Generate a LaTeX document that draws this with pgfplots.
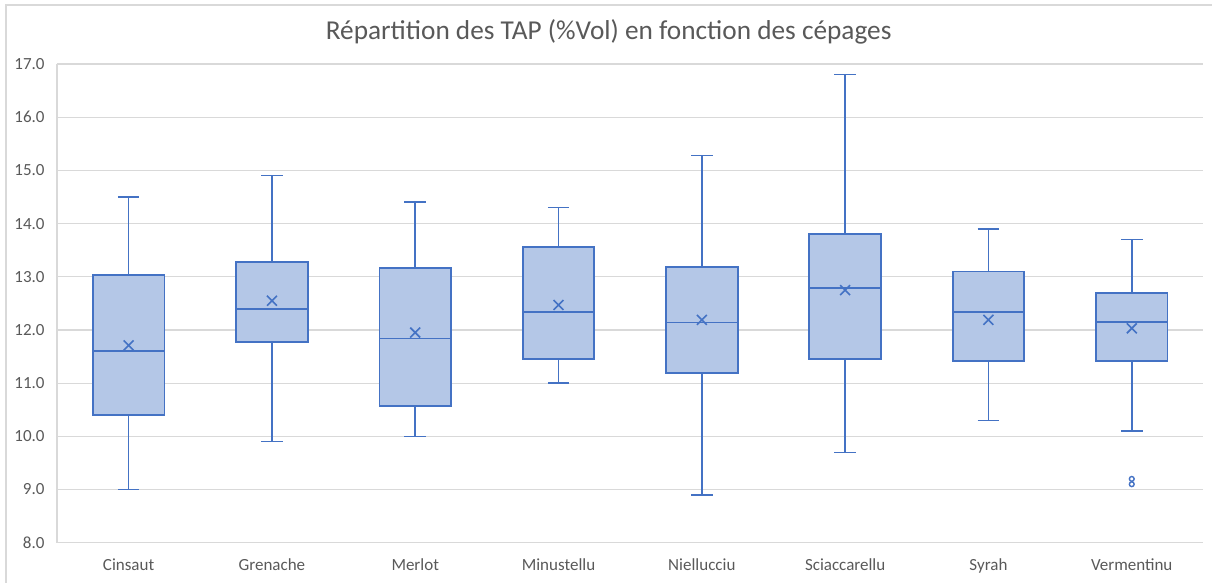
\documentclass[border=0pt]{standalone}
\usepackage{pgfplots}
\pgfplotsset{compat=1.18}
\usepgfplotslibrary{statistics}
\usepackage{fontspec}
\setmainfont{Carlito}
\definecolor{boxline}{HTML}{4472C4}
\definecolor{boxfill}{HTML}{B4C7E7}
\definecolor{txt}{HTML}{595959}
\definecolor{gridc}{HTML}{D9D9D9}
\pgfplotsset{
  mybox/.style={
    boxline, line width=0.8pt, solid,
    mark=o, mark size=1.2pt, mark options={solid, line width=0.7pt},
    boxplot/draw direction=y,
    boxplot/box extend=0.5,
    boxplot/whisker extend=0.15,
    boxplot/every box/.style={draw=boxline, fill=boxfill, line width=0.9pt},
    boxplot/every median/.style={line width=0.9pt},
    boxplot/every whisker/.style={line width=0.8pt},
    boxplot/every average/.style={/tikz/mark=x, /tikz/mark size=3.5pt, /tikz/mark options={solid, line width=0.7pt}},
  }
}
\begin{document}
\begin{tikzpicture}
\path (0pt,0pt) rectangle (606.5pt,291.5pt);
\draw[gridc, line width=0.6pt] (3pt,0pt) -- (3pt,289pt) -- (606.5pt,289pt);
\node[txt, font=\fontsize{13.65}{16}\selectfont, anchor=base, inner sep=0pt] at (304.5pt,271.5pt) {Répartition des TAP (\%Vol) en fonction des cépages};
\begin{axis}[
  at={(28.5pt,20pt)}, anchor=south west,
  scale only axis, width=573.5pt, height=239.5pt,
  xmin=-0.5, xmax=7.5, ymin=8, ymax=17,
  ytick={8,9,10,11,12,13,14,15,16,17},
  xtick={0,1,2,3,4,5,6,7},
  xticklabels={Cinsaut,Grenache,Merlot,Minustellu,Niellucciu,Sciaccarellu,Syrah,Vermentinu},
  /pgf/number format/assume math mode=true,
  yticklabel style={/pgf/number format/fixed, /pgf/number format/fixed zerofill, /pgf/number format/precision=1, anchor=east, xshift=-2.7pt},
  ticklabel style={font=\fontsize{8.5}{10}\selectfont, text=txt},
  xticklabel style={anchor=base, yshift=-14pt},
  major tick length=0pt,
  axis lines*=left,
  axis line style={gridc, line width=0.6pt},
  ymajorgrids, grid style={gridc, line width=0.6pt},
  clip=false,
]
\addplot[mybox, boxplot prepared={lower whisker=9.0, lower quartile=10.4, median=11.6, upper quartile=13.03, upper whisker=14.5, average=11.71, draw position=0}] coordinates {};
\addplot[mybox, boxplot prepared={lower whisker=9.9, lower quartile=11.77, median=12.39, upper quartile=13.27, upper whisker=14.9, average=12.55, draw position=1}] coordinates {};
\addplot[mybox, boxplot prepared={lower whisker=10.0, lower quartile=10.57, median=11.84, upper quartile=13.16, upper whisker=14.4, average=11.95, draw position=2}] coordinates {};
\addplot[mybox, boxplot prepared={lower whisker=11.0, lower quartile=11.45, median=12.34, upper quartile=13.56, upper whisker=14.3, average=12.47, draw position=3}] coordinates {};
\addplot[mybox, boxplot prepared={lower whisker=8.9, lower quartile=11.19, median=12.14, upper quartile=13.19, upper whisker=15.28, average=12.19, draw position=4}] coordinates {};
\addplot[mybox, boxplot prepared={lower whisker=9.7, lower quartile=11.45, median=12.79, upper quartile=13.8, upper whisker=16.8, average=12.75, draw position=5}] coordinates {};
\addplot[mybox, boxplot prepared={lower whisker=10.3, lower quartile=11.42, median=12.34, upper quartile=13.1, upper whisker=13.9, average=12.19, draw position=6}] coordinates {};
\addplot[mybox, boxplot prepared={lower whisker=10.1, lower quartile=11.41, median=12.15, upper quartile=12.7, upper whisker=13.7, average=12.03, draw position=7}] coordinates {(7,9.2) (7,9.1)};
\end{axis}
\end{tikzpicture}
\end{document}
